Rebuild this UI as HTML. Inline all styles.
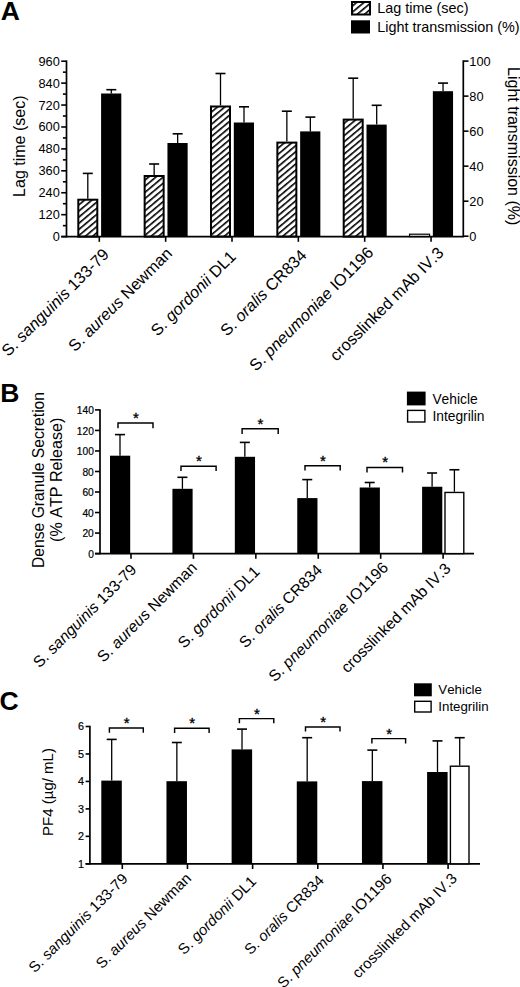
<!DOCTYPE html>
<html><head><meta charset="utf-8"><style>
html,body{margin:0;padding:0;background:#fff;overflow:hidden;width:520px;height:987px;}
svg{display:block;font-family:"Liberation Sans", sans-serif;font-kerning:none;}
text.sm{stroke:#000;stroke-width:0.2px;}
</style></head><body>
<svg width="520" height="987" viewBox="0 0 520 987">
<defs>
<pattern id="hatch" patternUnits="userSpaceOnUse" width="4.7" height="4.7" patternTransform="rotate(-40)">
<rect x="0" y="0" width="4.7" height="1.6" fill="#000"/>
</pattern>
</defs>
<rect width="520" height="987" fill="#fff"/>
<text x="0.8" y="20" font-size="26.5" font-weight="bold" style="stroke:none">A</text>
<rect x="352.00" y="2.00" width="18.00" height="12.50" fill="url(#hatch)" stroke="#000" stroke-width="2"/>
<rect x="351.00" y="20.30" width="19.00" height="13.20" fill="#000"/>
<text x="377.30" y="13.40" font-size="14.4" text-anchor="start" >Lag time (sec)</text>
<text x="377.30" y="32.20" font-size="14.4" text-anchor="start" >Light transmission (%)</text>
<line x1="66.50" y1="60.45" x2="66.50" y2="237.35" stroke="#000" stroke-width="1.7"/>
<line x1="61.20" y1="236.60" x2="66.50" y2="236.60" stroke="#000" stroke-width="1.6"/>
<text x="59.80" y="241.10" font-size="12.8" text-anchor="end" >0</text>
<line x1="62.90" y1="225.64" x2="66.50" y2="225.64" stroke="#000" stroke-width="1.6"/>
<line x1="61.20" y1="214.68" x2="66.50" y2="214.68" stroke="#000" stroke-width="1.6"/>
<text x="59.80" y="219.18" font-size="12.8" text-anchor="end" >120</text>
<line x1="62.90" y1="203.71" x2="66.50" y2="203.71" stroke="#000" stroke-width="1.6"/>
<line x1="61.20" y1="192.75" x2="66.50" y2="192.75" stroke="#000" stroke-width="1.6"/>
<text x="59.80" y="197.25" font-size="12.8" text-anchor="end" >240</text>
<line x1="62.90" y1="181.79" x2="66.50" y2="181.79" stroke="#000" stroke-width="1.6"/>
<line x1="61.20" y1="170.82" x2="66.50" y2="170.82" stroke="#000" stroke-width="1.6"/>
<text x="59.80" y="175.32" font-size="12.8" text-anchor="end" >360</text>
<line x1="62.90" y1="159.86" x2="66.50" y2="159.86" stroke="#000" stroke-width="1.6"/>
<line x1="61.20" y1="148.90" x2="66.50" y2="148.90" stroke="#000" stroke-width="1.6"/>
<text x="59.80" y="153.40" font-size="12.8" text-anchor="end" >480</text>
<line x1="62.90" y1="137.94" x2="66.50" y2="137.94" stroke="#000" stroke-width="1.6"/>
<line x1="61.20" y1="126.98" x2="66.50" y2="126.98" stroke="#000" stroke-width="1.6"/>
<text x="59.80" y="131.48" font-size="12.8" text-anchor="end" >600</text>
<line x1="62.90" y1="116.01" x2="66.50" y2="116.01" stroke="#000" stroke-width="1.6"/>
<line x1="61.20" y1="105.05" x2="66.50" y2="105.05" stroke="#000" stroke-width="1.6"/>
<text x="59.80" y="109.55" font-size="12.8" text-anchor="end" >720</text>
<line x1="62.90" y1="94.09" x2="66.50" y2="94.09" stroke="#000" stroke-width="1.6"/>
<line x1="61.20" y1="83.13" x2="66.50" y2="83.13" stroke="#000" stroke-width="1.6"/>
<text x="59.80" y="87.63" font-size="12.8" text-anchor="end" >840</text>
<line x1="62.90" y1="72.16" x2="66.50" y2="72.16" stroke="#000" stroke-width="1.6"/>
<line x1="61.20" y1="61.20" x2="66.50" y2="61.20" stroke="#000" stroke-width="1.6"/>
<text x="59.80" y="65.70" font-size="12.8" text-anchor="end" >960</text>
<line x1="463.30" y1="60.35" x2="463.30" y2="236.95" stroke="#000" stroke-width="1.7"/>
<line x1="463.30" y1="236.20" x2="468.50" y2="236.20" stroke="#000" stroke-width="1.6"/>
<text x="469.30" y="240.70" font-size="12.8" text-anchor="start" >0</text>
<line x1="463.30" y1="201.18" x2="468.50" y2="201.18" stroke="#000" stroke-width="1.6"/>
<text x="469.30" y="205.68" font-size="12.8" text-anchor="start" >20</text>
<line x1="463.30" y1="166.16" x2="468.50" y2="166.16" stroke="#000" stroke-width="1.6"/>
<text x="469.30" y="170.66" font-size="12.8" text-anchor="start" >40</text>
<line x1="463.30" y1="131.14" x2="468.50" y2="131.14" stroke="#000" stroke-width="1.6"/>
<text x="469.30" y="135.64" font-size="12.8" text-anchor="start" >60</text>
<line x1="463.30" y1="96.12" x2="468.50" y2="96.12" stroke="#000" stroke-width="1.6"/>
<text x="469.30" y="100.62" font-size="12.8" text-anchor="start" >80</text>
<line x1="463.30" y1="61.10" x2="468.50" y2="61.10" stroke="#000" stroke-width="1.6"/>
<text x="469.30" y="65.60" font-size="12.8" text-anchor="start" >100</text>
<line x1="61.20" y1="236.60" x2="464.10" y2="236.60" stroke="#000" stroke-width="1.7"/>
<line x1="99.30" y1="236.60" x2="99.30" y2="241.80" stroke="#000" stroke-width="1.6"/>
<line x1="165.65" y1="236.60" x2="165.65" y2="241.80" stroke="#000" stroke-width="1.6"/>
<line x1="232.00" y1="236.60" x2="232.00" y2="241.80" stroke="#000" stroke-width="1.6"/>
<line x1="298.35" y1="236.60" x2="298.35" y2="241.80" stroke="#000" stroke-width="1.6"/>
<line x1="364.70" y1="236.60" x2="364.70" y2="241.80" stroke="#000" stroke-width="1.6"/>
<line x1="431.05" y1="236.60" x2="431.05" y2="241.80" stroke="#000" stroke-width="1.6"/>
<line x1="87.80" y1="198.70" x2="87.80" y2="173.40" stroke="#000" stroke-width="1.3"/>
<line x1="82.80" y1="173.40" x2="92.80" y2="173.40" stroke="#000" stroke-width="1.6"/>
<rect x="78.30" y="199.70" width="19.00" height="36.90" fill="url(#hatch)" stroke="#000" stroke-width="2"/>
<line x1="111.30" y1="93.50" x2="111.30" y2="89.70" stroke="#000" stroke-width="1.3"/>
<line x1="106.30" y1="89.70" x2="116.30" y2="89.70" stroke="#000" stroke-width="1.6"/>
<rect x="101.10" y="93.50" width="20.20" height="143.10" fill="#000"/>
<line x1="154.15" y1="175.00" x2="154.15" y2="164.00" stroke="#000" stroke-width="1.3"/>
<line x1="149.15" y1="164.00" x2="159.15" y2="164.00" stroke="#000" stroke-width="1.6"/>
<rect x="144.65" y="176.00" width="19.00" height="60.60" fill="url(#hatch)" stroke="#000" stroke-width="2"/>
<line x1="177.65" y1="143.00" x2="177.65" y2="133.80" stroke="#000" stroke-width="1.3"/>
<line x1="172.65" y1="133.80" x2="182.65" y2="133.80" stroke="#000" stroke-width="1.6"/>
<rect x="167.45" y="143.00" width="20.20" height="93.60" fill="#000"/>
<line x1="220.50" y1="105.50" x2="220.50" y2="73.50" stroke="#000" stroke-width="1.3"/>
<line x1="215.50" y1="73.50" x2="225.50" y2="73.50" stroke="#000" stroke-width="1.6"/>
<rect x="211.00" y="106.50" width="19.00" height="130.10" fill="url(#hatch)" stroke="#000" stroke-width="2"/>
<line x1="244.00" y1="122.50" x2="244.00" y2="106.80" stroke="#000" stroke-width="1.3"/>
<line x1="239.00" y1="106.80" x2="249.00" y2="106.80" stroke="#000" stroke-width="1.6"/>
<rect x="233.80" y="122.50" width="20.20" height="114.10" fill="#000"/>
<line x1="286.85" y1="141.60" x2="286.85" y2="111.20" stroke="#000" stroke-width="1.3"/>
<line x1="281.85" y1="111.20" x2="291.85" y2="111.20" stroke="#000" stroke-width="1.6"/>
<rect x="277.35" y="142.60" width="19.00" height="94.00" fill="url(#hatch)" stroke="#000" stroke-width="2"/>
<line x1="310.35" y1="131.40" x2="310.35" y2="117.10" stroke="#000" stroke-width="1.3"/>
<line x1="305.35" y1="117.10" x2="315.35" y2="117.10" stroke="#000" stroke-width="1.6"/>
<rect x="300.15" y="131.40" width="20.20" height="105.20" fill="#000"/>
<line x1="353.20" y1="118.60" x2="353.20" y2="78.20" stroke="#000" stroke-width="1.3"/>
<line x1="348.20" y1="78.20" x2="358.20" y2="78.20" stroke="#000" stroke-width="1.6"/>
<rect x="343.70" y="119.60" width="19.00" height="117.00" fill="url(#hatch)" stroke="#000" stroke-width="2"/>
<line x1="376.70" y1="124.60" x2="376.70" y2="105.30" stroke="#000" stroke-width="1.3"/>
<line x1="371.70" y1="105.30" x2="381.70" y2="105.30" stroke="#000" stroke-width="1.6"/>
<rect x="366.50" y="124.60" width="20.20" height="112.00" fill="#000"/>
<rect x="409.55" y="234.20" width="20.00" height="2.40" fill="none" stroke="#000" stroke-width="1.2"/>
<line x1="443.05" y1="91.20" x2="443.05" y2="83.10" stroke="#000" stroke-width="1.3"/>
<line x1="438.05" y1="83.10" x2="448.05" y2="83.10" stroke="#000" stroke-width="1.6"/>
<rect x="432.85" y="91.20" width="20.20" height="145.40" fill="#000"/>
<text transform="translate(25.3,146.2) rotate(-90)" font-size="16" text-anchor="middle">Lag time (sec)</text>
<text transform="translate(507.5,146.2) rotate(90)" font-size="16" text-anchor="middle">Light transmission (%)</text>
<text transform="translate(110.00,255.40) rotate(-45)" font-size="16.3" text-anchor="end" xml:space="preserve">S. <tspan font-style="italic">sanguinis</tspan> 133-79</text>
<text transform="translate(173.05,254.50) rotate(-45)" font-size="16.3" text-anchor="end" xml:space="preserve">S. <tspan font-style="italic">aureus</tspan> Newman</text>
<text transform="translate(236.80,257.50) rotate(-45)" font-size="16.3" text-anchor="end" xml:space="preserve">S. <tspan font-style="italic">gordonii</tspan> DL1</text>
<text transform="translate(307.65,256.40) rotate(-45)" font-size="16.3" text-anchor="end" xml:space="preserve">S. <tspan font-style="italic">oralis</tspan> CR834</text>
<text transform="translate(374.40,253.60) rotate(-45)" font-size="16.3" text-anchor="end" xml:space="preserve">S. <tspan font-style="italic">pneumoniae</tspan> IO1196</text>
<text transform="translate(444.65,253.80) rotate(-45)" font-size="16.3" text-anchor="end" xml:space="preserve">crosslinked mAb IV.3</text>
<text x="0.3" y="402.2" font-size="26.5" font-weight="bold" style="stroke:none">B</text>
<rect x="406.90" y="391.60" width="18.70" height="13.80" fill="#000"/>
<rect x="407.60" y="410.40" width="17.30" height="11.60" fill="#fff" stroke="#000" stroke-width="1.4"/>
<text x="432.40" y="403.60" font-size="13.8" text-anchor="start" >Vehicle</text>
<text x="432.40" y="421.40" font-size="13.8" text-anchor="start" >Integrilin</text>
<line x1="100.00" y1="409.15" x2="100.00" y2="554.35" stroke="#000" stroke-width="1.7"/>
<line x1="95.00" y1="553.60" x2="100.00" y2="553.60" stroke="#000" stroke-width="1.6"/>
<text class="sm" x="93.80" y="557.80" font-size="10.2" text-anchor="end" >0</text>
<line x1="95.00" y1="533.07" x2="100.00" y2="533.07" stroke="#000" stroke-width="1.6"/>
<text class="sm" x="93.80" y="537.27" font-size="10.2" text-anchor="end" >20</text>
<line x1="95.00" y1="512.54" x2="100.00" y2="512.54" stroke="#000" stroke-width="1.6"/>
<text class="sm" x="93.80" y="516.74" font-size="10.2" text-anchor="end" >40</text>
<line x1="95.00" y1="492.01" x2="100.00" y2="492.01" stroke="#000" stroke-width="1.6"/>
<text class="sm" x="93.80" y="496.21" font-size="10.2" text-anchor="end" >60</text>
<line x1="95.00" y1="471.49" x2="100.00" y2="471.49" stroke="#000" stroke-width="1.6"/>
<text class="sm" x="93.80" y="475.69" font-size="10.2" text-anchor="end" >80</text>
<line x1="95.00" y1="450.96" x2="100.00" y2="450.96" stroke="#000" stroke-width="1.6"/>
<text class="sm" x="93.80" y="455.16" font-size="10.2" text-anchor="end" >100</text>
<line x1="95.00" y1="430.43" x2="100.00" y2="430.43" stroke="#000" stroke-width="1.6"/>
<text class="sm" x="93.80" y="434.63" font-size="10.2" text-anchor="end" >120</text>
<line x1="95.00" y1="409.90" x2="100.00" y2="409.90" stroke="#000" stroke-width="1.6"/>
<text class="sm" x="93.80" y="414.10" font-size="10.2" text-anchor="end" >140</text>
<line x1="95.00" y1="553.60" x2="474.00" y2="553.60" stroke="#000" stroke-width="1.7"/>
<line x1="131.00" y1="553.60" x2="131.00" y2="558.80" stroke="#000" stroke-width="1.6"/>
<line x1="193.42" y1="553.60" x2="193.42" y2="558.80" stroke="#000" stroke-width="1.6"/>
<line x1="255.84" y1="553.60" x2="255.84" y2="558.80" stroke="#000" stroke-width="1.6"/>
<line x1="318.26" y1="553.60" x2="318.26" y2="558.80" stroke="#000" stroke-width="1.6"/>
<line x1="380.68" y1="553.60" x2="380.68" y2="558.80" stroke="#000" stroke-width="1.6"/>
<line x1="443.10" y1="553.60" x2="443.10" y2="558.80" stroke="#000" stroke-width="1.6"/>
<line x1="120.00" y1="455.70" x2="120.00" y2="434.60" stroke="#000" stroke-width="1.3"/>
<line x1="115.00" y1="434.60" x2="125.00" y2="434.60" stroke="#000" stroke-width="1.6"/>
<rect x="110.00" y="455.70" width="20.20" height="97.90" fill="#000"/>
<line x1="182.42" y1="488.80" x2="182.42" y2="477.30" stroke="#000" stroke-width="1.3"/>
<line x1="177.42" y1="477.30" x2="187.42" y2="477.30" stroke="#000" stroke-width="1.6"/>
<rect x="172.42" y="488.80" width="20.20" height="64.80" fill="#000"/>
<line x1="244.84" y1="456.80" x2="244.84" y2="442.40" stroke="#000" stroke-width="1.3"/>
<line x1="239.84" y1="442.40" x2="249.84" y2="442.40" stroke="#000" stroke-width="1.6"/>
<rect x="234.84" y="456.80" width="20.20" height="96.80" fill="#000"/>
<line x1="307.26" y1="498.10" x2="307.26" y2="479.60" stroke="#000" stroke-width="1.3"/>
<line x1="302.26" y1="479.60" x2="312.26" y2="479.60" stroke="#000" stroke-width="1.6"/>
<rect x="297.26" y="498.10" width="20.20" height="55.50" fill="#000"/>
<line x1="369.68" y1="487.50" x2="369.68" y2="482.50" stroke="#000" stroke-width="1.3"/>
<line x1="364.68" y1="482.50" x2="374.68" y2="482.50" stroke="#000" stroke-width="1.6"/>
<rect x="359.68" y="487.50" width="20.20" height="66.10" fill="#000"/>
<line x1="432.10" y1="486.75" x2="432.10" y2="473.00" stroke="#000" stroke-width="1.3"/>
<line x1="427.10" y1="473.00" x2="437.10" y2="473.00" stroke="#000" stroke-width="1.6"/>
<rect x="422.10" y="486.75" width="20.20" height="66.85" fill="#000"/>
<line x1="454.40" y1="491.75" x2="454.40" y2="469.75" stroke="#000" stroke-width="1.3"/>
<line x1="449.40" y1="469.75" x2="459.40" y2="469.75" stroke="#000" stroke-width="1.6"/>
<rect x="445.00" y="492.45" width="18.80" height="61.15" fill="#fff" stroke="#000" stroke-width="1.4"/>
<path d="M118.00,428.20 V422.90 H153.00 V428.20" fill="none" stroke="#000" stroke-width="1.45"/>
<text x="135.80" y="422.80" font-size="15" text-anchor="middle" style="stroke:#000;stroke-width:0.35px">*</text>
<path d="M181.00,471.00 V466.30 H216.10 V471.00" fill="none" stroke="#000" stroke-width="1.45"/>
<text x="198.85" y="466.20" font-size="15" text-anchor="middle" style="stroke:#000;stroke-width:0.35px">*</text>
<path d="M242.10,433.90 V428.80 H278.20 V433.90" fill="none" stroke="#000" stroke-width="1.45"/>
<text x="260.45" y="428.70" font-size="15" text-anchor="middle" style="stroke:#000;stroke-width:0.35px">*</text>
<path d="M305.00,470.60 V465.80 H340.20 V470.60" fill="none" stroke="#000" stroke-width="1.45"/>
<text x="322.90" y="465.70" font-size="15" text-anchor="middle" style="stroke:#000;stroke-width:0.35px">*</text>
<path d="M367.00,472.60 V467.50 H402.50 V472.60" fill="none" stroke="#000" stroke-width="1.45"/>
<text x="385.05" y="467.40" font-size="15" text-anchor="middle" style="stroke:#000;stroke-width:0.35px">*</text>
<text transform="translate(44,480) rotate(-90)" font-size="15.7" text-anchor="middle">Dense Granule Secretion</text>
<text transform="translate(61.5,479.8) rotate(-90)" font-size="16.1" text-anchor="middle">(% ATP Release)</text>
<text transform="translate(137.50,570.50) rotate(-45)" font-size="15.7" text-anchor="end" xml:space="preserve">S. <tspan font-style="italic">sanguinis</tspan> 133-79</text>
<text transform="translate(197.92,568.70) rotate(-45)" font-size="15.7" text-anchor="end" xml:space="preserve">S. <tspan font-style="italic">aureus</tspan> Newman</text>
<text transform="translate(260.64,572.60) rotate(-45)" font-size="15.7" text-anchor="end" xml:space="preserve">S. <tspan font-style="italic">gordonii</tspan> DL1</text>
<text transform="translate(323.16,571.00) rotate(-45)" font-size="15.7" text-anchor="end" xml:space="preserve">S. <tspan font-style="italic">oralis</tspan> CR834</text>
<text transform="translate(389.08,568.50) rotate(-45)" font-size="15.7" text-anchor="end" xml:space="preserve">S. <tspan font-style="italic">pneumoniae</tspan> IO1196</text>
<text transform="translate(451.60,569.50) rotate(-45)" font-size="15.7" text-anchor="end" xml:space="preserve">crosslinked mAb IV.3</text>
<text x="-0.5" y="710.3" font-size="26.5" font-weight="bold" style="stroke:none">C</text>
<rect x="414.00" y="683.30" width="17.80" height="13.00" fill="#000"/>
<rect x="414.70" y="701.30" width="16.40" height="10.70" fill="#fff" stroke="#000" stroke-width="1.4"/>
<text x="438.30" y="694.20" font-size="13.3" text-anchor="start" >Vehicle</text>
<text x="438.30" y="711.40" font-size="13.3" text-anchor="start" >Integrilin</text>
<line x1="89.90" y1="725.75" x2="89.90" y2="864.55" stroke="#000" stroke-width="1.7"/>
<line x1="85.60" y1="863.80" x2="89.90" y2="863.80" stroke="#000" stroke-width="1.6"/>
<text class="sm" x="84.00" y="867.70" font-size="10.8" text-anchor="end" >1</text>
<line x1="85.60" y1="836.34" x2="89.90" y2="836.34" stroke="#000" stroke-width="1.6"/>
<text class="sm" x="84.00" y="840.24" font-size="10.8" text-anchor="end" >2</text>
<line x1="85.60" y1="808.88" x2="89.90" y2="808.88" stroke="#000" stroke-width="1.6"/>
<text class="sm" x="84.00" y="812.78" font-size="10.8" text-anchor="end" >3</text>
<line x1="85.60" y1="781.42" x2="89.90" y2="781.42" stroke="#000" stroke-width="1.6"/>
<text class="sm" x="84.00" y="785.32" font-size="10.8" text-anchor="end" >4</text>
<line x1="85.60" y1="753.96" x2="89.90" y2="753.96" stroke="#000" stroke-width="1.6"/>
<text class="sm" x="84.00" y="757.86" font-size="10.8" text-anchor="end" >5</text>
<line x1="85.60" y1="726.50" x2="89.90" y2="726.50" stroke="#000" stroke-width="1.6"/>
<text class="sm" x="84.00" y="730.40" font-size="10.8" text-anchor="end" >6</text>
<line x1="85.60" y1="863.80" x2="480.00" y2="863.80" stroke="#000" stroke-width="1.7"/>
<line x1="122.30" y1="863.80" x2="122.30" y2="869.00" stroke="#000" stroke-width="1.6"/>
<line x1="187.46" y1="863.80" x2="187.46" y2="869.00" stroke="#000" stroke-width="1.6"/>
<line x1="252.62" y1="863.80" x2="252.62" y2="869.00" stroke="#000" stroke-width="1.6"/>
<line x1="317.78" y1="863.80" x2="317.78" y2="869.00" stroke="#000" stroke-width="1.6"/>
<line x1="382.94" y1="863.80" x2="382.94" y2="869.00" stroke="#000" stroke-width="1.6"/>
<line x1="448.10" y1="863.80" x2="448.10" y2="869.00" stroke="#000" stroke-width="1.6"/>
<line x1="111.70" y1="780.60" x2="111.70" y2="739.40" stroke="#000" stroke-width="1.3"/>
<line x1="106.70" y1="739.40" x2="116.70" y2="739.40" stroke="#000" stroke-width="1.6"/>
<rect x="101.30" y="780.60" width="20.50" height="83.20" fill="#000"/>
<line x1="176.86" y1="781.20" x2="176.86" y2="742.50" stroke="#000" stroke-width="1.3"/>
<line x1="171.86" y1="742.50" x2="181.86" y2="742.50" stroke="#000" stroke-width="1.6"/>
<rect x="166.46" y="781.20" width="20.50" height="82.60" fill="#000"/>
<line x1="242.02" y1="749.40" x2="242.02" y2="729.10" stroke="#000" stroke-width="1.3"/>
<line x1="237.02" y1="729.10" x2="247.02" y2="729.10" stroke="#000" stroke-width="1.6"/>
<rect x="231.62" y="749.40" width="20.50" height="114.40" fill="#000"/>
<line x1="307.18" y1="781.40" x2="307.18" y2="737.70" stroke="#000" stroke-width="1.3"/>
<line x1="302.18" y1="737.70" x2="312.18" y2="737.70" stroke="#000" stroke-width="1.6"/>
<rect x="296.78" y="781.40" width="20.50" height="82.40" fill="#000"/>
<line x1="372.34" y1="781.10" x2="372.34" y2="750.10" stroke="#000" stroke-width="1.3"/>
<line x1="367.34" y1="750.10" x2="377.34" y2="750.10" stroke="#000" stroke-width="1.6"/>
<rect x="361.94" y="781.10" width="20.50" height="82.70" fill="#000"/>
<line x1="437.50" y1="772.00" x2="437.50" y2="740.90" stroke="#000" stroke-width="1.3"/>
<line x1="432.50" y1="740.90" x2="442.50" y2="740.90" stroke="#000" stroke-width="1.6"/>
<rect x="427.10" y="772.00" width="20.50" height="91.80" fill="#000"/>
<line x1="459.70" y1="765.50" x2="459.70" y2="737.70" stroke="#000" stroke-width="1.3"/>
<line x1="454.70" y1="737.70" x2="464.70" y2="737.70" stroke="#000" stroke-width="1.6"/>
<rect x="450.40" y="766.20" width="18.60" height="97.60" fill="#fff" stroke="#000" stroke-width="1.4"/>
<path d="M109.40,732.70 V728.00 H143.30 V732.70" fill="none" stroke="#000" stroke-width="1.45"/>
<text x="126.65" y="728.00" font-size="15" text-anchor="middle" style="stroke:#000;stroke-width:0.35px">*</text>
<path d="M174.60,733.00 V728.30 H209.10 V733.00" fill="none" stroke="#000" stroke-width="1.45"/>
<text x="192.15" y="728.30" font-size="15" text-anchor="middle" style="stroke:#000;stroke-width:0.35px">*</text>
<path d="M239.40,723.30 V718.60 H273.80 V723.30" fill="none" stroke="#000" stroke-width="1.45"/>
<text x="256.90" y="718.60" font-size="15" text-anchor="middle" style="stroke:#000;stroke-width:0.35px">*</text>
<path d="M305.50,731.60 V726.90 H340.00 V731.60" fill="none" stroke="#000" stroke-width="1.45"/>
<text x="323.05" y="726.90" font-size="15" text-anchor="middle" style="stroke:#000;stroke-width:0.35px">*</text>
<path d="M371.90,743.60 V738.60 H405.60 V743.60" fill="none" stroke="#000" stroke-width="1.45"/>
<text x="389.05" y="738.60" font-size="15" text-anchor="middle" style="stroke:#000;stroke-width:0.35px">*</text>
<text transform="translate(53,792) rotate(-90)" font-size="15.0" text-anchor="middle">PF4 (µg/ mL)</text>
<text transform="translate(128.55,879.70) rotate(-45)" font-size="15.0" text-anchor="end" xml:space="preserve">S. <tspan font-style="italic">sanguinis</tspan> 133-79</text>
<text transform="translate(192.11,879.30) rotate(-45)" font-size="15.0" text-anchor="end" xml:space="preserve">S. <tspan font-style="italic">aureus</tspan> Newman</text>
<text transform="translate(257.17,882.40) rotate(-45)" font-size="15.0" text-anchor="end" xml:space="preserve">S. <tspan font-style="italic">gordonii</tspan> DL1</text>
<text transform="translate(324.83,881.30) rotate(-45)" font-size="15.0" text-anchor="end" xml:space="preserve">S. <tspan font-style="italic">oralis</tspan> CR834</text>
<text transform="translate(392.59,879.90) rotate(-45)" font-size="15.0" text-anchor="end" xml:space="preserve">S. <tspan font-style="italic">pneumoniae</tspan> IO1196</text>
<text transform="translate(457.95,879.40) rotate(-45)" font-size="15.0" text-anchor="end" xml:space="preserve">crosslinked mAb IV.3</text>
</svg>
</body></html>
